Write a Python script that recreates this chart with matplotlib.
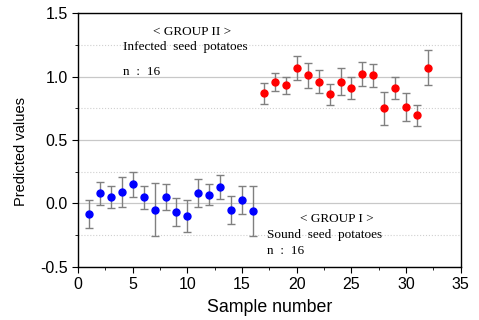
import numpy as np
import matplotlib
matplotlib.use('Agg')
from matplotlib import pyplot as plt
from matplotlib.ticker import MultipleLocator

# group I (sound) and group II (infected) predictions
sample_g1 = list(range(1, 17))
pred_g1 = [-0.08, 0.08, 0.05, 0.09, 0.15, 0.05, -0.05, 0.05, -0.07, -0.10,
           0.08, 0.07, 0.13, -0.05, 0.03, -0.06]
err_g1 = [0.11, 0.09, 0.085, 0.12, 0.10, 0.09, 0.21, 0.10, 0.11, 0.125,
          0.11, 0.08, 0.095, 0.11, 0.11, 0.20]

sample_g2 = list(range(17, 33))
pred_g2 = [0.87, 0.96, 0.93, 1.07, 1.01, 0.96, 0.86, 0.96, 0.91, 1.02,
           1.01, 0.75, 0.91, 0.76, 0.695, 1.07]
err_g2 = [0.083, 0.071, 0.065, 0.095, 0.10, 0.088, 0.084, 0.107, 0.084, 0.097,
          0.09, 0.13, 0.088, 0.113, 0.081, 0.14]

plt.rcParams['axes.unicode_minus'] = False

fig = plt.figure(figsize=(4.79, 3.2), dpi=100)
ax = fig.add_axes([0.163, 0.166, 0.799, 0.793])

ax.grid(True, which='major', axis='y', color='#c8c8c8', linewidth=0.9, linestyle='-')
ax.grid(True, which='minor', axis='y', color='#d0d0d0', linewidth=0.8, linestyle=':')
ax.set_axisbelow(True)

ax.errorbar(sample_g1, pred_g1, yerr=err_g1, fmt='o', color='#0000ff', markersize=5,
            ecolor='#808080', elinewidth=1, capsize=3, capthick=1)
ax.errorbar(sample_g2, pred_g2, yerr=err_g2, fmt='o', color='#ff0000', markersize=5,
            ecolor='#808080', elinewidth=1, capsize=3, capthick=1)

ax.set_xlim(0, 35)
ax.set_ylim(-0.5, 1.5)
ax.xaxis.set_major_locator(MultipleLocator(5))
ax.xaxis.set_minor_locator(MultipleLocator(2.5))
ax.yaxis.set_major_locator(MultipleLocator(0.5))
ax.yaxis.set_minor_locator(MultipleLocator(0.25))
ax.tick_params(which='major', direction='out', length=4, labelsize=11.5,
               top=False, right=False)
ax.tick_params(which='minor', direction='out', length=2, top=False, right=False)
for lab in ax.get_xticklabels() + ax.get_yticklabels():
    lab.set_fontfamily('Liberation Sans')
for s in ax.spines.values():
    s.set_linewidth(1.0)

ax.set_xlabel('Sample number', fontsize=12.8, family='Liberation Sans', labelpad=5)
ax.set_ylabel('Predicted values', fontsize=10.5, family='Liberation Sans')
ax.yaxis.set_label_coords(-0.13, 0.453)

tf = dict(family='Liberation Serif', fontsize=9.5)
ax.text(10.4, 1.35, '< GROUP II >', ha='center', va='center', **tf)
ax.text(4.1, 1.236, 'Infected  seed  potatoes', ha='left', va='center', **tf)
ax.text(4.1, 1.039, 'n  :  16', ha='left', va='center', **tf)
ax.text(23.65, -0.12, '< GROUP I >', ha='center', va='center', **tf)
ax.text(17.3, -0.252, 'Sound  seed  potatoes', ha='left', va='center', **tf)
ax.text(17.3, -0.375, 'n  :  16', ha='left', va='center', **tf)

plt.savefig('out.png', dpi=100)
plt.close()
